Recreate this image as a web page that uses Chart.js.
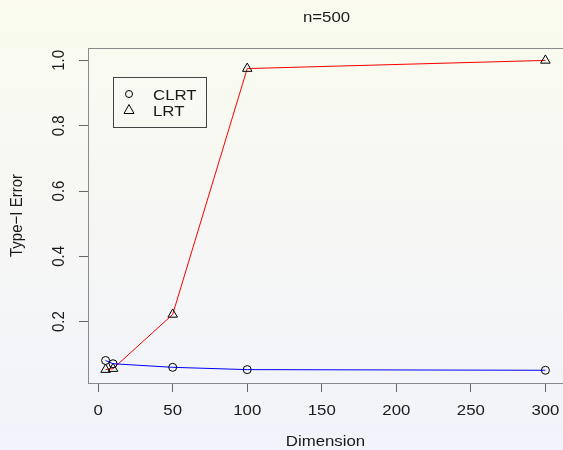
<!DOCTYPE html>
<html>
<head>
<meta charset="utf-8">
<script src="https://cdn.jsdelivr.net/npm/chart.js@4"></script>
<style>
  html, body { margin: 0; padding: 0; background: #f6f7f4; }
  canvas { display: block; }
</style>
</head>
<body>
<canvas id="graficoErrore" width="563" height="450"></canvas>
<script>
// dati
const dimensioni = [5, 10, 50, 100, 300];
const clrt = [0.081, 0.071, 0.060, 0.053, 0.051];
const lrt = [0.053, 0.056, 0.222, 0.975, 1.0];
const xTicks = [0, 50, 100, 150, 200, 250, 300];
const yTicks = [0.2, 0.4, 0.6, 0.8, 1.0];
const titolo = 'n=500';
const etichettaX = 'Dimension';
const etichettaY = 'Type\u2212I Error';
const nomiSerie = ['CLRT', 'LRT'];

const FONT = '15px "Liberation Sans", Arial, sans-serif';
const STRETCH = 1.12; // il testo originale è un po' allargato

function scriviTesto(ctx, testo, x, y, align, ruota) {
  ctx.save();
  ctx.translate(x, y);
  ctx.scale(STRETCH, 1);
  if (ruota) ctx.rotate(-Math.PI / 2);
  ctx.textAlign = align;
  ctx.textBaseline = 'alphabetic';
  ctx.fillText(testo, 0, 0);
  ctx.restore();
}

const decorazioni = {
  id: 'decorazioni',
  beforeDraw(chart) {
    const { ctx, width, height } = chart;
    const g = ctx.createLinearGradient(0, 0, 0, height);
    g.addColorStop(0, '#fafbee');
    g.addColorStop(1, '#f2f3fb');
    ctx.save();
    ctx.fillStyle = g;
    ctx.fillRect(0, 0, width, height);
    ctx.restore();
  },
  afterDraw(chart) {
    const { ctx, chartArea: a, scales } = chart;
    ctx.save();
    // riquadro del grafico
    ctx.strokeStyle = '#8a8a8a';
    ctx.lineWidth = 1;
    ctx.strokeRect(a.left + 0.5, a.top + 0.5, a.right - a.left, a.bottom - a.top);

    ctx.fillStyle = '#1a1a1a';
    ctx.font = FONT;
    // etichette asse x
    xTicks.forEach(v => scriviTesto(ctx, String(v), scales.x.getPixelForValue(v), 415, 'center', false));
    // etichette asse y, ruotate come in R
    yTicks.forEach(v => scriviTesto(ctx, v.toFixed(1), 64, scales.y.getPixelForValue(v), 'center', true));
    // titoli
    scriviTesto(ctx, titolo, (a.left + a.right) / 2 + 1, 22, 'center', false);
    scriviTesto(ctx, etichettaX, (a.left + a.right) / 2, 446, 'center', false);
    scriviTesto(ctx, etichettaY, 22, (a.top + a.bottom) / 2, 'center', true);

    // legenda
    ctx.strokeStyle = '#444';
    ctx.strokeRect(113.5, 77.5, 93, 50);
    ctx.strokeStyle = '#000';
    ctx.beginPath();
    ctx.arc(129, 94, 3.5, 0, Math.PI * 2);
    ctx.stroke();
    ctx.beginPath();
    ctx.moveTo(129, 104.5);
    ctx.lineTo(134, 113.5);
    ctx.lineTo(124, 113.5);
    ctx.closePath();
    ctx.stroke();
    scriviTesto(ctx, nomiSerie[0], 153, 99.5, 'left', false);
    scriviTesto(ctx, nomiSerie[1], 153, 115.5, 'left', false);
    ctx.restore();
  }
};

const punti = serie => dimensioni.map((d, i) => ({ x: d, y: serie[i] }));

new Chart(document.getElementById('graficoErrore'), {
  type: 'scatter',
  data: {
    datasets: [{
      label: nomiSerie[0],
      data: punti(clrt),
      showLine: true,
      borderColor: '#0000ff',
      borderWidth: 1,
      pointStyle: 'circle',
      pointRadius: 4,
      pointBorderColor: '#000',
      pointBackgroundColor: 'rgba(0,0,0,0)',
      pointBorderWidth: 1
    }, {
      label: nomiSerie[1],
      data: punti(lrt),
      showLine: true,
      borderColor: '#ff0000',
      borderWidth: 1,
      pointStyle: 'triangle',
      pointRadius: 5.5,
      pointBorderColor: '#000',
      pointBackgroundColor: 'rgba(0,0,0,0)',
      pointBorderWidth: 1
    }]
  },
  options: {
    responsive: false,
    animation: false,
    layout: { autoPadding: false, padding: { top: 48, right: 0, left: 0, bottom: 0 } },
    plugins: {
      legend: { display: false },
      tooltip: { enabled: false }
    },
    scales: {
      x: {
        type: 'linear',
        min: -6.8,
        max: 311.8,
        afterBuildTicks: s => { s.ticks = xTicks.map(v => ({ value: v })); },
        afterFit: s => { s.height = 67; },
        ticks: { display: false },
        border: { display: false },
        grid: { drawOnChartArea: false, drawTicks: true, tickLength: 9, color: '#666' }
      },
      y: {
        type: 'linear',
        min: 0.012,
        max: 1.038,
        afterBuildTicks: s => { s.ticks = yTicks.map(v => ({ value: v })); },
        afterFit: s => { s.width = 88; },
        ticks: { display: false },
        border: { display: false },
        grid: { drawOnChartArea: false, drawTicks: true, tickLength: 9, color: '#666' }
      }
    }
  },
  plugins: [decorazioni]
});
</script>
</body>
</html>
